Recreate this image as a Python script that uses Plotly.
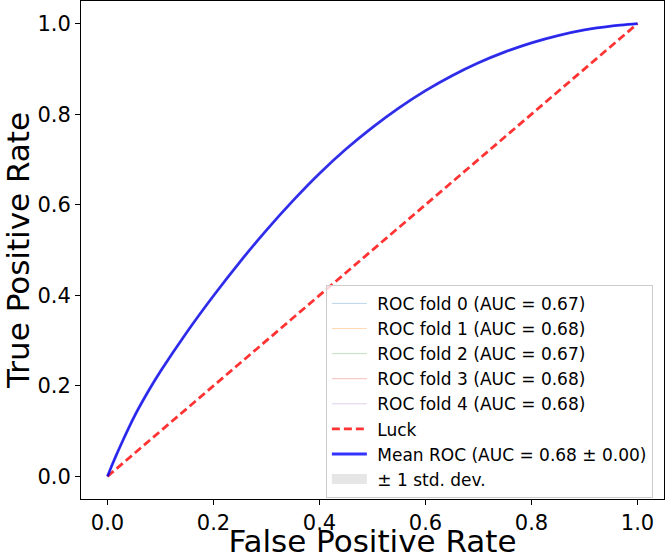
import plotly.graph_objects as go

# ---- data ----
fpr_grid = [0.0, 0.01, 0.02, 0.03, 0.05, 0.075, 0.1, 0.15, 0.2, 0.25, 0.3, 0.35, 0.4, 0.45,
            0.5, 0.55, 0.6, 0.65, 0.7, 0.75, 0.8, 0.85, 0.9, 0.95, 1.0]

tpr_mean = [0.0, 0.029, 0.056, 0.082, 0.131, 0.184, 0.232, 0.319, 0.399, 0.474, 0.544, 0.609,
            0.669, 0.723, 0.771, 0.814, 0.852, 0.885, 0.9135, 0.9375, 0.9575, 0.9735, 0.986,
            0.9945, 1.0]
tpr_std = [0.0, 0.001, 0.001, 0.001, 0.0012, 0.0015, 0.0015, 0.0015, 0.0015, 0.0015, 0.0015,
           0.0015, 0.0015, 0.0015, 0.0015, 0.0012, 0.0012, 0.001, 0.001, 0.001, 0.0008, 0.0006,
           0.0004, 0.0002, 0.0]

tpr_fold0 = [0.0, 0.028, 0.055, 0.080, 0.129, 0.182, 0.230, 0.317, 0.397, 0.472, 0.542, 0.607,
             0.667, 0.721, 0.769, 0.812, 0.850, 0.883, 0.912, 0.936, 0.956, 0.973, 0.985,
             0.994, 1.0]
tpr_fold1 = [0.0, 0.030, 0.057, 0.083, 0.132, 0.185, 0.233, 0.320, 0.400, 0.475, 0.545, 0.610,
             0.670, 0.724, 0.772, 0.815, 0.853, 0.886, 0.914, 0.938, 0.958, 0.974, 0.986,
             0.995, 1.0]
tpr_fold2 = [0.0, 0.028, 0.055, 0.081, 0.130, 0.183, 0.231, 0.318, 0.398, 0.473, 0.543, 0.608,
             0.668, 0.722, 0.770, 0.813, 0.851, 0.884, 0.913, 0.937, 0.957, 0.973, 0.986,
             0.994, 1.0]
tpr_fold3 = [0.0, 0.029, 0.056, 0.082, 0.131, 0.184, 0.231, 0.318, 0.398, 0.473, 0.543, 0.608,
             0.668, 0.722, 0.771, 0.814, 0.852, 0.885, 0.913, 0.937, 0.957, 0.973, 0.986,
             0.994, 1.0]
tpr_fold4 = [0.0, 0.030, 0.057, 0.083, 0.132, 0.185, 0.233, 0.320, 0.400, 0.475, 0.545, 0.610,
             0.670, 0.724, 0.772, 0.815, 0.853, 0.886, 0.914, 0.938, 0.958, 0.974, 0.987,
             0.995, 1.0]

fold_aucs = [0.67, 0.68, 0.67, 0.68, 0.68]
mean_auc = 0.68
std_auc = 0.00

luck_x = [0.0, 1.0]
luck_y = [0.0, 1.0]

fold_colors = ["rgba(31,119,180,0.3)", "rgba(255,127,14,0.3)", "rgba(44,160,44,0.3)",
               "rgba(214,39,40,0.3)", "rgba(148,103,189,0.3)"]
band_color = "rgba(128,128,128,0.2)"

# ---- figure ----
FONT = "DejaVu Sans"
NB = "\u00a0"
fig = go.Figure()

folds = [tpr_fold0, tpr_fold1, tpr_fold2, tpr_fold3, tpr_fold4]
for i, (tpr, auc) in enumerate(zip(folds, fold_aucs)):
    fig.add_trace(go.Scatter(
        x=fpr_grid, y=tpr, mode="lines",
        line=dict(color=fold_colors[i], width=1, shape="spline", smoothing=0.6),
        name=f"{NB}ROC fold {i} (AUC = {auc:.2f})",
    ))

fig.add_trace(go.Scatter(
    x=luck_x, y=luck_y, mode="lines",
    line=dict(color="rgba(255,0,0,0.8)", width=2.8, dash="8px,4px"),
    name=f"{NB}Luck",
))

fig.add_trace(go.Scatter(
    x=fpr_grid, y=tpr_mean, mode="lines",
    line=dict(color="rgba(0,0,255,0.8)", width=2.8, shape="spline", smoothing=0.6),
    name=f"{NB}Mean ROC (AUC = {mean_auc:.2f} \u00b1 {std_auc:.2f})",
))

lower = [max(m - s, 0.0) for m, s in zip(tpr_mean, tpr_std)]
upper = [min(m + s, 1.0) for m, s in zip(tpr_mean, tpr_std)]
fig.add_trace(go.Scatter(
    x=fpr_grid, y=lower, mode="lines", line=dict(width=0, color="rgba(0,0,0,0)"),
    showlegend=False, hoverinfo="skip",
))
fig.add_trace(go.Scatter(
    x=fpr_grid, y=upper, mode="lines", line=dict(width=0, color="rgba(0,0,0,0)"),
    fill="tonexty", fillcolor=band_color, showlegend=False, hoverinfo="skip",
))
# legend entry for the band (patch-like swatch)
fig.add_trace(go.Scatter(
    x=[None], y=[None], mode="lines",
    line=dict(color=band_color, width=12),
    name=f"{NB}\u00b1 1 std. dev.",
))

axis_common = dict(
    showgrid=False, zeroline=False, automargin=False,
    showline=True, mirror=True, linecolor="#000000", linewidth=1,
    ticks="outside", ticklen=5, tickwidth=1, tickcolor="#000000",
    tickfont=dict(family=FONT, size=21, color="#000000"),
    tickformat=".1f", dtick=0.2, tick0=0,
)

fig.update_layout(
    width=666, height=559,
    margin=dict(l=81, r=2, t=1, b=60),
    paper_bgcolor="white", plot_bgcolor="white",
    font=dict(family=FONT, color="#000000"),
    xaxis=dict(range=[-0.05, 1.05],
               title=dict(text="False Positive Rate", font=dict(family=FONT, size=31)),
               **axis_common),
    yaxis=dict(range=[-0.05, 1.05],
               title=dict(text="True Positive Rate", font=dict(family=FONT, size=31)),
               **axis_common),
    legend=dict(
        x=0.42, y=0.43, xanchor="left", yanchor="top",
        bgcolor="rgba(255,255,255,0.8)", bordercolor="#cccccc", borderwidth=1,
        font=dict(family=FONT, size=17, color="#000000"),
        itemwidth=35, traceorder="normal",
    ),
    showlegend=True,
)

fig.write_html(
    "out.html",
    config={"displayModeBar": False},
    post_script="document.body.style.margin='0';document.body.style.overflow='hidden';",
)
